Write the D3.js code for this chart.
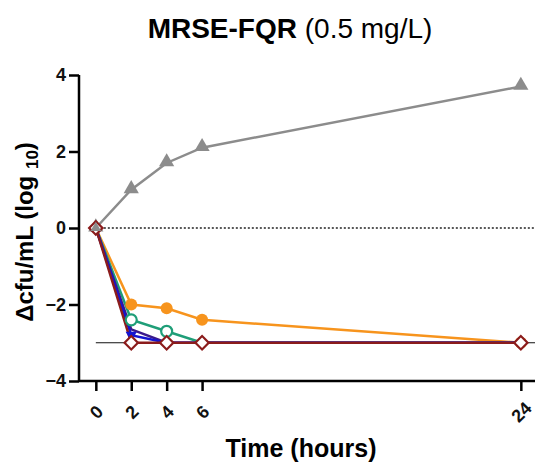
<!DOCTYPE html>
<html>
<head>
<meta charset="utf-8">
<script src="https://cdn.jsdelivr.net/npm/d3@7"></script>
<style>
  body { margin: 0; background: #fff; }
  text { font-family: "Liberation Sans", Arial, sans-serif; }
</style>
</head>
<body>
<svg id="chart" width="539" height="464"></svg>
<script>
// data
const times = [0, 2, 4, 6, 24];
const xTicks = [0, 2, 4, 6, 24];
const yTicks = [-4, -2, 0, 2, 4];
const growth = [0, 1.0, 1.7, 2.1, 3.7];
const orange = [0, -2.0, -2.1, -2.4, -3.0];
const green = [0, -2.4, -2.7, -3.0, -3.0];
const purple = [0, -2.65, -3.0, -3.0, -3.0];
const blue = [0, -2.8, -3.0, -3.0, -3.0];
const darkred = [0, -3.0, -3.0, -3.0, -3.0];
const detectLimit = -3;

const svg = d3.select("#chart"),
    margin = { top: 75, right: 4, bottom: 83, left: 79 },
    width = +svg.attr("width") - margin.left - margin.right,
    height = +svg.attr("height") - margin.top - margin.bottom,
    g = svg.append("g").attr("transform", "translate(" + margin.left + "," + margin.top + ")");

const x = d3.scaleLinear().domain([-0.95, 24.8]).range([0, width]);
const y = d3.scaleLinear().domain([-4, 4]).range([height, 0]);

// title
const title = svg.append("text")
    .attr("x", 290).attr("y", 38)
    .attr("text-anchor", "middle")
    .style("font-size", "28px");
title.append("tspan").style("font-weight", "bold").text("MRSE-FQR");
title.append("tspan").text(" (0.5 mg/L)");

// reference lines
g.append("line")
    .attr("x1", x(0)).attr("x2", width)
    .attr("y1", y(0)).attr("y2", y(0))
    .style("stroke", "#222").style("stroke-width", 1.3)
    .style("stroke-dasharray", "2,2");
g.append("line")
    .attr("x1", x(0)).attr("x2", width)
    .attr("y1", y(detectLimit)).attr("y2", y(detectLimit))
    .style("stroke", "#111").style("stroke-width", 1.2);

// axes
const yAxis = g.append("g")
    .call(d3.axisLeft(y).tickValues(yTicks).tickSize(10).tickPadding(3));
yAxis.select(".domain").style("stroke-width", 2.5).attr("d", "M0," + y(4) + "V" + y(-4));
yAxis.selectAll(".tick line").style("stroke-width", 2.5);
yAxis.selectAll(".tick text").style("font-size", "18px").style("font-weight", "bold").style("fill", "#111");

const xAxis = g.append("g")
    .attr("transform", "translate(0," + height + ")")
    .call(d3.axisBottom(x).tickValues(xTicks).tickSize(10).tickPadding(4));
xAxis.select(".domain").style("stroke-width", 2.5).attr("d", "M0,0H" + width);
xAxis.selectAll(".tick line").style("stroke-width", 2.5).attr("y1", 1).attr("y2", 10);
xAxis.selectAll(".tick text")
    .style("font-size", "18px").style("font-weight", "bold").style("fill", "#111")
    .attr("text-anchor", "middle")
    .attr("dy", "0.35em")
    .attr("y", 0).attr("x", 0)
    .attr("transform", "translate(0,31) rotate(-45)");

// axis labels
svg.append("text")
    .attr("x", 301).attr("y", 457)
    .attr("text-anchor", "middle")
    .style("font-size", "25px").style("font-weight", "bold")
    .text("Time (hours)");

const yl = svg.append("text")
    .attr("transform", "translate(33,232) rotate(-90)")
    .attr("text-anchor", "middle")
    .style("font-size", "24px").style("font-weight", "bold");
yl.append("tspan").text("\u0394cfu/mL (log ");
yl.append("tspan").attr("dy", 5).style("font-size", "17px").text("10");
yl.append("tspan").attr("dy", -5).text(")");

const line = d3.line()
    .x(function (d, i) { return x(times[i]); })
    .y(function (d) { return y(d); });

function drawSeries(vals, color, lw) {
    g.append("path")
        .datum(vals)
        .attr("d", line)
        .style("fill", "none")
        .style("stroke", color)
        .style("stroke-width", lw);
}

drawSeries(growth, "#8c8c8c", 2.5);
drawSeries(orange, "#f7941d", 2.5);
drawSeries(green, "#1f9e78", 2.5);
drawSeries(purple, "#3b1a8c", 2.5);
drawSeries(blue, "#1414d2", 2.5);
drawSeries(darkred, "#8b1c1c", 2.5);

// markers
const tri = d3.symbol().type(d3.symbolTriangle).size(100);
g.selectAll(".grow")
    .data(growth)
    .enter().append("path")
    .attr("d", tri)
    .attr("transform", function (d, i) { return "translate(" + x(times[i]) + "," + (y(d) - 1) + ")"; })
    .style("fill", "#8c8c8c");

g.selectAll(".orng")
    .data(orange.slice(1))
    .enter().append("circle")
    .attr("cx", function (d, i) { return x(times[i + 1]); })
    .attr("cy", function (d) { return y(d); })
    .attr("r", 6)
    .style("fill", "#f7941d");

g.selectAll(".grn")
    .data(green.slice(1, 3))
    .enter().append("circle")
    .attr("cx", function (d, i) { return x(times[i + 1]); })
    .attr("cy", function (d) { return y(d); })
    .attr("r", 5.5)
    .style("fill", "#fff")
    .style("stroke", "#1f9e78")
    .style("stroke-width", 2.2);

g.append("path")
    .attr("d", d3.symbol().type(d3.symbolTriangle).size(55))
    .attr("transform", "translate(" + x(times[1]) + "," + y(blue[1]) + ") rotate(180)")
    .style("fill", "#1414d2");

const diamond = d3.symbol().type(d3.symbolSquare).size(90);
g.selectAll(".dred")
    .data(darkred)
    .enter().append("path")
    .attr("d", diamond)
    .attr("transform", function (d, i) { return "translate(" + x(times[i]) + "," + y(d) + ") rotate(45)"; })
    .style("fill", "#fff")
    .style("stroke", "#8b1c1c")
    .style("stroke-width", 2.2);

// growth marker at zero drawn over the diamond
g.append("path")
    .attr("d", d3.symbol().type(d3.symbolTriangle).size(50))
    .attr("transform", "translate(" + x(0) + "," + y(0) + ")")
    .style("fill", "#8c8c8c");
</script>
</body>
</html>
